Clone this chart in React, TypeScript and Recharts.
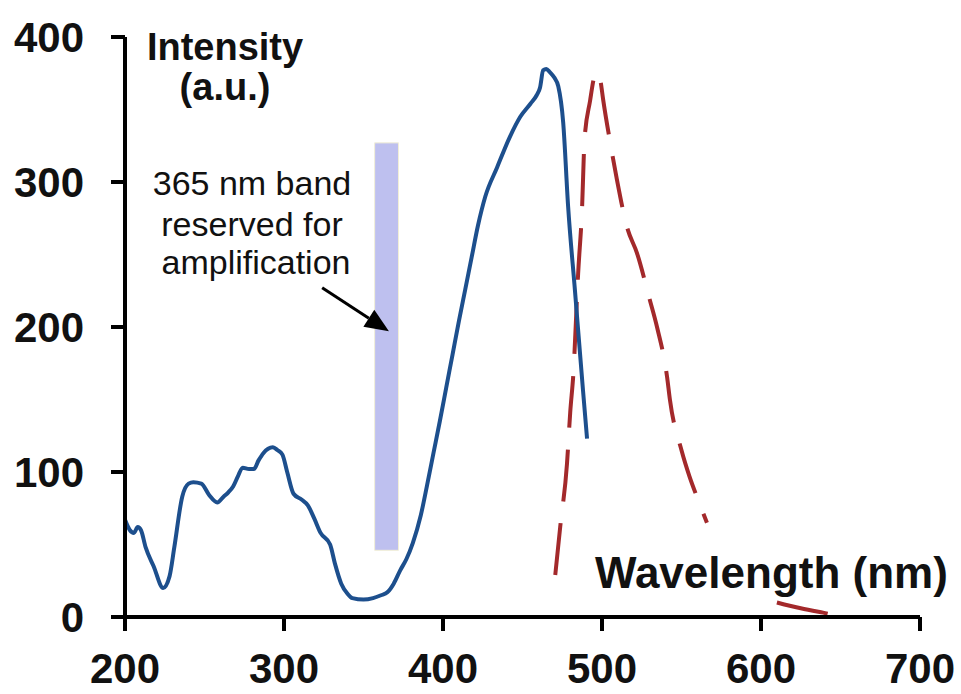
import React from 'react';
import {
  LineChart, Line, XAxis, YAxis, ReferenceArea, ReferenceLine, Customized,
} from 'recharts';

// excitation / absorption curve (solid blue)
const blueWl = [
  200, 203, 205.6, 208, 210, 213, 218, 224, 228, 231, 236, 240, 243, 248, 253, 258, 262, 265,
  268, 271, 274, 278, 281, 284, 287, 290, 293, 296, 299, 302, 306, 311, 315, 319, 323, 329,
  332, 336, 340, 343, 350, 356, 361, 365, 369, 373, 377, 381, 386, 390, 394, 398, 402, 406,
  410, 414, 418, 422, 426.6, 434, 442, 448.6, 455, 459, 461, 463, 465, 467, 470, 472.5, 475.6,
  478.7, 483, 488, 490.6,
];
const blueI = [
  67, 60, 58, 62, 60, 48, 35, 20, 28, 48, 83, 92, 93, 92, 84, 79, 83, 86,
  90, 97, 103, 102, 102, 108, 113, 116, 117, 115, 112, 100, 85, 81, 77, 68, 58, 50,
  37, 23, 16, 13, 12, 13, 15, 17, 23, 32, 40, 51, 70, 91, 113, 135, 158, 181,
  204, 226, 248, 270, 290, 310, 331, 345, 354, 360, 365, 377, 378, 376, 372, 366, 341,
  283, 225, 157, 123,
];

// emission curve (dashed red); null = hidden behind the axis title
const redWl = [
  470.6, 473.7, 478, 480, 482, 485, 487.5, 489, 492.5, 495, 497, 499, 500.7, 506, 509.5,
  515.7, 522, 530, 534.6, 541, 542.7, 550, 555, 560, 566, 588, 610, 625, 639, 654, 670, 687,
];
const redI: (number | null)[] = [
  29, 62, 106, 141, 168, 237, 283, 329, 356, 372, 376, 370, 357, 322, 301,
  269, 251, 219, 200, 165, 150, 115, 97, 82, 65, null, 10, 6, 3, 0, 0, 0,
];

const xTicks = [200, 300, 400, 500, 600, 700];
const yTicks = [0, 100, 200, 300, 400];

const bandRange = [357, 372];
const bandLevels = [46, 327];
const arrowFrom = { x: 324, y: 227 };
const arrowTo = { x: 366, y: 197 };

const blueData = blueWl.map((x, i) => ({ x, y: blueI[i] }));
const redData = redWl.map((x, i) => ({ x, y: redI[i] }));

const FONT = 'Arial, "Liberation Sans", sans-serif';
const TICK = { fontFamily: FONT, fontSize: 42, fontWeight: 700, fill: '#111' };

function ArrowShape(props: any) {
  const { x1, y1, x2, y2 } = props;
  if ([x1, y1, x2, y2].some((v) => v == null || isNaN(v))) return null;
  const ang = Math.atan2(y2 - y1, x2 - x1);
  const len = 24;
  const half = 10;
  const bx = x2 - len * Math.cos(ang);
  const by = y2 - len * Math.sin(ang);
  const px = -Math.sin(ang) * half;
  const py = Math.cos(ang) * half;
  return (
    <g>
      <line x1={x1} y1={y1} x2={bx} y2={by} stroke="#000" strokeWidth={3} />
      <polygon points={`${x2},${y2} ${bx + px},${by + py} ${bx - px},${by - py}`} fill="#000" />
    </g>
  );
}

function Annotations() {
  const note = { fontFamily: FONT, fontSize: 34, fill: '#111', textAnchor: 'middle' as const };
  const title = { fontFamily: FONT, fontSize: 38, fontWeight: 700, fill: '#111', textAnchor: 'middle' as const };
  return (
    <g>
      <text x={225} y={60} {...title}>Intensity</text>
      <text x={225} y={100} {...title}>(a.u.)</text>
      <text x={252} y={195} {...note}>365 nm band</text>
      <text x={252} y={236} {...note}>reserved for</text>
      <text x={256} y={274} {...note}>amplification</text>
      <text x={595} y={588} fontFamily={FONT} fontSize={44} fontWeight={700} fill="#111">Wavelength (nm)</text>
    </g>
  );
}

export default function App() {
  return (
    <div style={{ position: 'absolute', left: 0, top: 0, width: 961, height: 694, background: '#fff' }}>
      <LineChart width={961} height={694} margin={{ top: 37, right: 41, left: 0, bottom: 17 }}>
        <XAxis
          type="number" dataKey="x" domain={[200, 700]} ticks={xTicks} allowDataOverflow
          tick={TICK} tickSize={14} tickMargin={22} height={60}
          axisLine={{ stroke: '#000', strokeWidth: 4 }} tickLine={{ stroke: '#000', strokeWidth: 4 }}
        />
        <YAxis
          type="number" dataKey="y" domain={[0, 400]} ticks={yTicks} allowDataOverflow
          tick={TICK} tickSize={14} tickMargin={27} width={125}
          axisLine={{ stroke: '#000', strokeWidth: 4 }} tickLine={{ stroke: '#000', strokeWidth: 4 }}
        />

        {/* 365 nm band */}
        <ReferenceArea
          x1={bandRange[0]} x2={bandRange[1]} y1={bandLevels[0]} y2={bandLevels[1]}
          fill="#bec0ef" fillOpacity={1} stroke="#f2efd6" strokeWidth={1}
        />
        <ReferenceLine
          segment={[arrowFrom, arrowTo]} stroke="#000" shape={ArrowShape}
        />

        <Line
          data={redData} dataKey="y" type="monotone" stroke="#a3292b" strokeWidth={4}
          strokeDasharray="52 22" dot={false} activeDot={false} isAnimationActive={false}
        />
        <Line
          data={blueData} dataKey="y" type="monotone" stroke="#1d4f8d" strokeWidth={4}
          dot={false} activeDot={false} isAnimationActive={false}
        />

        <Customized component={<Annotations />} />
      </LineChart>
    </div>
  );
}
